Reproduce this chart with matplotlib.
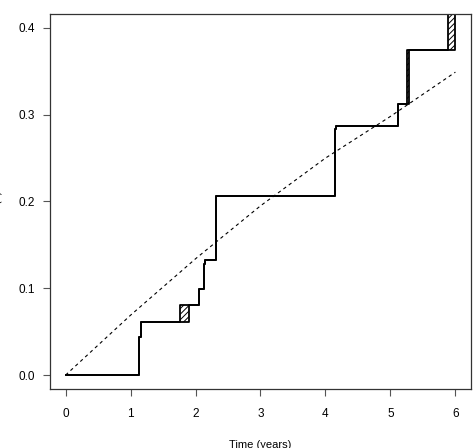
import numpy as np
import matplotlib.pyplot as plt

plt.rcParams['font.family'] = ['Liberation Sans', 'DejaVu Sans']
plt.rcParams['hatch.linewidth'] = 0.7

# estimated cumulative hazard: jump i happens somewhere in [t_lo[i], t_hi[i]]
t_lo = [0.0, 1.123, 1.16, 1.76, 2.05, 2.13, 2.15, 2.31, 4.15, 4.165, 5.12, 5.25, 5.88]
t_hi = [0.0, 1.123, 1.16, 1.90, 2.05, 2.13, 2.15, 2.31, 4.15, 4.165, 5.12, 5.28, 6.00]
H = [0.0, 0.044, 0.0607, 0.0807, 0.0988, 0.128, 0.1326, 0.2067, 0.283, 0.2874,
     0.3124, 0.3746, 0.46]

# parametric fit (dashed)
fit_t = [0, 1, 2, 3, 4, 5, 6]
fit_H = [0.0, 0.069, 0.134, 0.195, 0.250, 0.298, 0.349]

fig = plt.figure(figsize=(4.77, 4.48), dpi=100)
ax = fig.add_axes([0.1048, 0.1317, 0.8826, 0.8371])

# hatched boxes where the jump time is only known to lie in an interval
for i in range(1, len(H)):
    if t_hi[i] > t_lo[i]:
        ax.fill_between([t_lo[i], t_hi[i]], H[i - 1], H[i], facecolor='none',
                        edgecolor='black', hatch='//////', linewidth=0)

t_end = t_hi[-1]
ax.plot(t_lo + [t_end], H + [H[-1]], drawstyle='steps-post', color='black', lw=1.3)
ax.plot(t_hi, H, drawstyle='steps-post', color='black', lw=1.3)

ax.plot(fit_t, fit_H, color='black', lw=0.8, linestyle=(0, (3, 3)))

ax.set_xlim(-0.24, 6.24)
ax.set_ylim(-0.016, 0.416)
ax.set_xticks(range(0, 7))
ax.set_yticks([0.0, 0.1, 0.2, 0.3, 0.4])
ax.set_yticklabels(['0.0', '0.1', '0.2', '0.3', '0.4'])
ax.tick_params(labelsize=8.5, length=5, width=0.8, color='#555555')
ax.tick_params(axis='x', pad=9)
ax.tick_params(axis='y', pad=6)
for s in ax.spines.values():
    s.set_linewidth(0.9)
    s.set_color('#333333')

ax.set_xlabel('Time (years)', fontsize=8)
ax.xaxis.set_label_coords(0.5, -0.135)
ax.set_ylabel(r'$\hat{\Lambda}(t)$', fontsize=8)
ax.yaxis.set_label_coords(-0.108, 0.5)

fig.savefig('out.png', dpi=100)
